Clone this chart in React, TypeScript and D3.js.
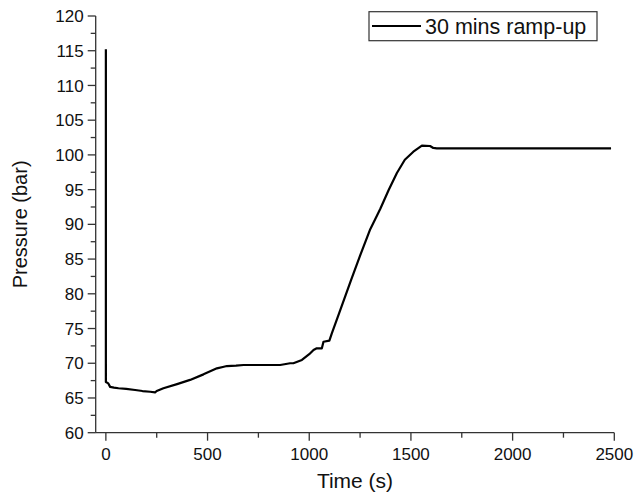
import React from "react";
import * as d3 from "d3";

const timeS = [0, 0, 12, 21, 40, 62, 100, 144, 180, 218, 242, 250, 283, 350, 414, 480, 546, 580, 595, 640, 677, 760, 857, 906, 922, 964, 1000, 1021, 1037, 1062, 1070, 1099, 1111, 1144, 1206, 1250, 1300, 1349, 1390, 1431, 1470, 1512, 1554, 1594, 1610, 1627, 2484];
const pressureBar = [115.2, 67.3, 67.1, 66.6, 66.5, 66.4, 66.3, 66.15, 66.0, 65.9, 65.8, 66.0, 66.4, 67.0, 67.6, 68.4, 69.27, 69.5, 69.6, 69.65, 69.75, 69.75, 69.75, 70.0, 70.0, 70.47, 71.3, 71.9, 72.15, 72.15, 73.1, 73.25, 74.3, 76.95, 82.0, 85.5, 89.3, 92.2, 94.9, 97.4, 99.3, 100.46, 101.33, 101.28, 101.0, 100.95, 100.95];
const xTicks = [0, 500, 1000, 1500, 2000, 2500];
const xMinor = [250, 750, 1250, 1750, 2250];
const yTicks = [60, 65, 70, 75, 80, 85, 90, 95, 100, 105, 110, 115, 120];
const yMinor = [62.5, 67.5, 72.5, 77.5, 82.5, 87.5, 92.5, 97.5, 102.5, 107.5, 112.5, 117.5];
const seriesName = "30 mins ramp-up";
const xTitle = "Time (s)";
const yTitle = "Pressure (bar)";

export default function App() {
  const W = 634, H = 497;
  const x = d3.scaleLinear().domain([-50, 2500]).range([95.7, 614.3]);
  const y = d3.scaleLinear().domain([60, 120]).range([432.7, 16]);
  const pts = timeS.map((t, i) => [t, pressureBar[i]] as [number, number]);
  const line = d3.line<[number, number]>().x(d => x(d[0])).y(d => y(d[1]));
  const font = "'Liberation Sans', Arial, sans-serif";
  const axisColor = "#333";
  const y0 = y(60);
  const x0 = x(-50);
  return (
    <svg width={W} height={H} style={{ position: "fixed", left: 0, top: 0, background: "#fff" }} fontFamily={font}>
      <rect x={0} y={0} width={W} height={H} fill="#fff" />
      {/* y axis */}
      <line x1={x0} x2={x0} y1={y(120)} y2={y0} stroke={axisColor} strokeWidth={1.3} />
      {yTicks.map(v => (
        <g key={"y" + v}>
          <line x1={x0 - 8} x2={x0} y1={y(v)} y2={y(v)} stroke={axisColor} strokeWidth={1.3} />
          <text x={x0 - 12} y={y(v)} dy="0.36em" textAnchor="end" fontSize={17} fill="#111">{v}</text>
        </g>
      ))}
      {yMinor.map(v => (
        <line key={"ym" + v} x1={x0 - 5} x2={x0} y1={y(v)} y2={y(v)} stroke={axisColor} strokeWidth={1.3} />
      ))}
      {/* x axis */}
      <line x1={x0} x2={x(2500)} y1={y0} y2={y0} stroke={axisColor} strokeWidth={1.3} />
      {xTicks.map(v => (
        <g key={"x" + v}>
          <line x1={x(v)} x2={x(v)} y1={y0} y2={y0 + 8} stroke={axisColor} strokeWidth={1.3} />
          <text x={x(v)} y={460} textAnchor="middle" fontSize={17} fill="#111">{v}</text>
        </g>
      ))}
      {xMinor.map(v => (
        <line key={"xm" + v} x1={x(v)} x2={x(v)} y1={y0} y2={y0 + 5} stroke={axisColor} strokeWidth={1.3} />
      ))}
      {/* titles */}
      <text x={(x0 + x(2500)) / 2} y={488} textAnchor="middle" fontSize={21} fill="#111">{xTitle}</text>
      <text transform={`translate(27,${(y(120) + y0) / 2}) rotate(-90)`} textAnchor="middle" fontSize={20} fill="#111">{yTitle}</text>
      {/* data line */}
      <path d={line(pts) || ""} fill="none" stroke="#000" strokeWidth={2.2} strokeLinejoin="round" />
      {/* legend */}
      <rect x={369} y={11.7} width={228} height={29} fill="#fff" stroke={axisColor} strokeWidth={1.2} />
      <line x1={372} x2={421} y1={26} y2={26} stroke="#000" strokeWidth={2.2} />
      <text x={425} y={33.5} fontSize={21.5} fill="#111">{seriesName}</text>
    </svg>
  );
}
